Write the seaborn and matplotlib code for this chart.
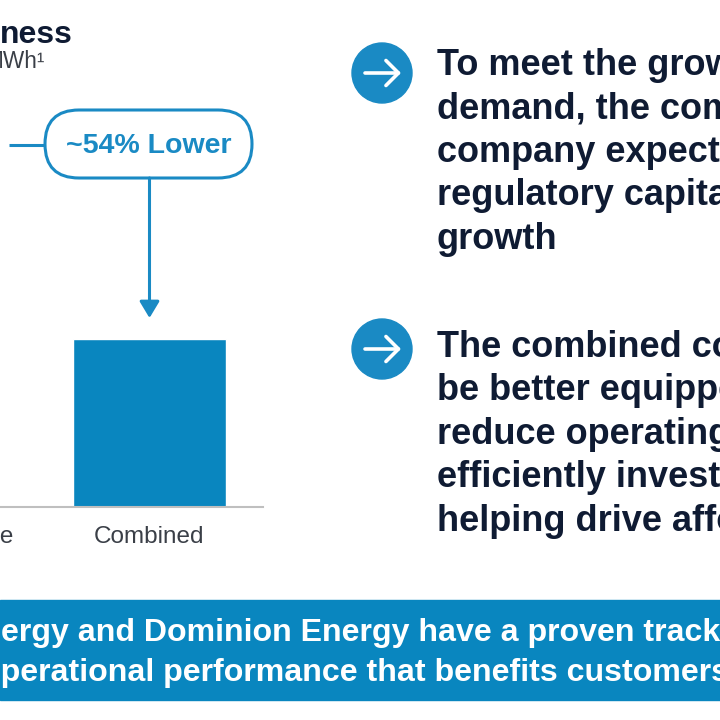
import matplotlib
matplotlib.use("Agg")
import matplotlib.pyplot as plt
from matplotlib.patches import FancyBboxPatch, Circle, Rectangle
import seaborn as sns
import pandas as pd

# data
categories = ["Industry Average", "Combined"]
values = [8.4, 4.4]
callout_label = "~54% Lower"
chart_title = "ness"
chart_unit = "MWh\u00b9"
bullet_one = ["To meet the growing", "demand, the combined", "company expects",
              "regulatory capital", "growth"]
bullet_two = ["The combined company", "be better equipped to", "reduce operating",
              "efficiently invest", "helping drive affordability"]
banner_lines = ["Energy and Dominion Energy have a proven track record",
                "operational performance that benefits customers"]

BLUE = "#0986BF"
LIGHT_BLUE = "#1A8AC4"
NAVY = "#0F1B33"
GREY_TXT = "#3A3F47"

sns.set_theme(style="white")
plt.rcParams["font.family"] = ["Liberation Sans", "DejaVu Sans"]

W = H = 720
fig = plt.figure(figsize=(7.2, 7.2), dpi=100)
renderer = fig.canvas.get_renderer()


def px_box(x0, y0, x1, y1):
    # pixel box with top-left origin -> figure fraction rect
    return [x0 / W, 1 - y1 / H, (x1 - x0) / W, (y1 - y0) / H]


def prefix_width(s, **kw):
    # width in pixels of the part of a line that falls off the left edge
    t = fig.text(0, 0, s, **kw)
    w = t.get_window_extent(renderer).width
    t.remove()
    return w


# bar chart
ax = fig.add_axes(px_box(-80, 100, 263, 507))
df = pd.DataFrame({"cat": categories, "val": values})
sns.barplot(data=df, x="cat", y="val", color=BLUE, saturation=1, width=0.674, ax=ax)
ax.set_xlim(-0.011, 1.500)
ax.set_ylim(0, 10.66)
ax.set_xlabel("")
ax.set_ylabel("")
ax.set_yticks([])
for side in ["left", "right", "top"]:
    ax.spines[side].set_visible(False)
ax.spines["bottom"].set_color("#BFBFBF")
ax.spines["bottom"].set_linewidth(1.5)
ax.tick_params(axis="x", length=0, pad=14, labelsize=17.5, labelcolor=GREY_TXT)
ax.patch.set_alpha(0)

# overlay in pixel coords for the slide furniture
ov = fig.add_axes([0, 0, 1, 1])
ov.set_xlim(0, W)
ov.set_ylim(H, 0)
ov.axis("off")
ov.patch.set_alpha(0)

top_x, top_y = ov.transData.inverted().transform(
    ax.transData.transform((1, values[1]))
)

ov.text(0, 43, chart_title, fontsize=23, weight="bold", color=NAVY, va="baseline")
ov.text(3.2 - prefix_width("M", fontsize=16.3), 68, chart_unit, fontsize=16.3,
        color=GREY_TXT, va="baseline")

# callout pill + connectors
pill_w, pill_h = 207, 68
pill_x = top_x - 1 - pill_w / 2
ov.add_patch(FancyBboxPatch((pill_x, 110), pill_w, pill_h,
                            boxstyle="round,pad=0,rounding_size=34",
                            fc="white", ec=LIGHT_BLUE, lw=2.2))
ov.text(top_x - 1, 146, callout_label, ha="center", va="center",
        fontsize=20.5, weight="bold", color=LIGHT_BLUE)
ov.plot([9, pill_x], [145, 145], color=LIGHT_BLUE, lw=2.2, solid_capstyle="butt")
ov.annotate("", xy=(top_x, top_y - 21), xytext=(top_x, 110 + pill_h),
            arrowprops=dict(arrowstyle="-|>,head_length=0.5,head_width=0.3",
                            color=LIGHT_BLUE, lw=2.2, shrinkA=0, shrinkB=0,
                            mutation_scale=20))

# bullets on the right
for cy, lines, base in [(73, bullet_one, 75), (349, bullet_two, 357)]:
    ov.add_patch(Circle((382, cy), 30, color=LIGHT_BLUE))
    ov.annotate("", xy=(401, cy), xytext=(365, cy),
                arrowprops=dict(arrowstyle="->,head_length=0.45,head_width=0.45",
                                color="white", lw=2.6, shrinkA=0, shrinkB=0,
                                mutation_scale=20))
    for i, line in enumerate(lines):
        ov.text(437, base + 43.4 * i, line, fontsize=26, weight="bold",
                color=NAVY, va="baseline")

# bottom banner
banner_font = dict(fontsize=23.1, weight="bold")
ov.add_patch(Rectangle((0, 600), W, 100, color=BLUE))
ov.text(1 - prefix_width("En", **banner_font), 641, banner_lines[0],
        color="white", va="baseline", **banner_font)
ov.text(1 - prefix_width("o", **banner_font), 681, banner_lines[1],
        color="white", va="baseline", **banner_font)

fig.savefig("out.png", dpi=100)
